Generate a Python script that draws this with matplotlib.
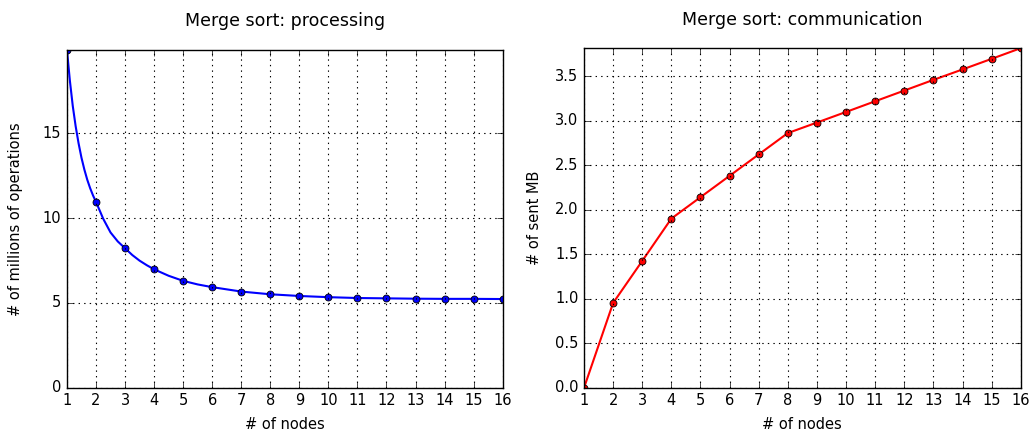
import matplotlib
matplotlib.use("Agg")
from matplotlib import pyplot as plt

# Merge sort: Rechenaufwand (Millionen Operationen) je Anzahl Knoten
nodes = list(range(1, 17))
ops = [19.9, 10.95, 8.22, 6.98, 6.30, 5.93, 5.67, 5.51, 5.41, 5.34,
       5.29, 5.27, 5.25, 5.24, 5.24, 5.23]
curve_x = [1, 1.1, 1.2, 1.3, 1.4, 1.5, 1.6, 1.7, 1.8, 1.9, 2, 2.25, 2.5,
           2.75, 3, 3.25, 3.5, 3.75, 4, 4.5, 5, 5.5, 6, 7, 8, 9, 10, 11,
           12, 13, 14, 15, 16]
curve_y = [19.9, 18.1, 16.6, 15.4, 14.4, 13.55, 12.85, 12.25, 11.75, 11.32,
           10.95, 9.95, 9.15, 8.62, 8.22, 7.82, 7.49, 7.22, 6.98, 6.60,
           6.30, 6.09, 5.93, 5.67, 5.51, 5.41, 5.34, 5.29, 5.27, 5.25,
           5.24, 5.24, 5.23]

# Kommunikation (gesendete MB) je Anzahl Knoten
sent_mb = [0.0, 0.953, 1.425, 1.90, 2.14, 2.38, 2.62, 2.86, 2.978, 3.097,
           3.217, 3.337, 3.457, 3.574, 3.693, 3.813]

plt.style.use("classic")
plt.rcParams["font.family"] = "DejaVu Sans"
plt.rcParams["font.size"] = 10.5

fig = plt.figure(figsize=(10.3, 4.3), dpi=100, facecolor="white")
ax1 = fig.add_axes([0.065, 0.098, 0.423, 0.786])
ax2 = fig.add_axes([0.567, 0.098, 0.424, 0.790])

# linker Plot
ax1.plot(curve_x, curve_y, color="blue", linewidth=1.5)
ax1.plot(nodes, ops, linestyle="none", marker="o", markersize=5,
         markerfacecolor="blue", markeredgecolor="black", markeredgewidth=0.6)
ax1.set_xlim(1, 16)
ax1.set_ylim(0, max(ops))
ax1.set_yticks([0, 5, 10, 15])
ax1.set_title("Merge sort: processing", fontsize=12.5, pad=17)
ax1.set_ylabel("# of millions of operations", labelpad=14)

# rechter Plot
ax2.plot(nodes, sent_mb, color="red", linewidth=1.5, marker="o", markersize=5,
         markerfacecolor="red", markeredgecolor="black", markeredgewidth=0.6)
ax2.set_xlim(1, 16)
ax2.set_ylim(0, max(sent_mb))
ax2.set_yticks([0.0, 0.5, 1.0, 1.5, 2.0, 2.5, 3.0, 3.5])
ax2.set_title("Merge sort: communication", fontsize=12.5, pad=17)
ax2.set_ylabel("# of sent MB", labelpad=9)

for ax in (ax1, ax2):
    ax.set_facecolor("white")
    ax.set_xticks(nodes)
    ax.set_xlabel("# of nodes", labelpad=6)
    ax.grid(True, color="black", linestyle=":", linewidth=0.8)
    ax.tick_params(direction="in", top=True, right=True, length=4)

fig.savefig("out.png", dpi=100, facecolor="white")
